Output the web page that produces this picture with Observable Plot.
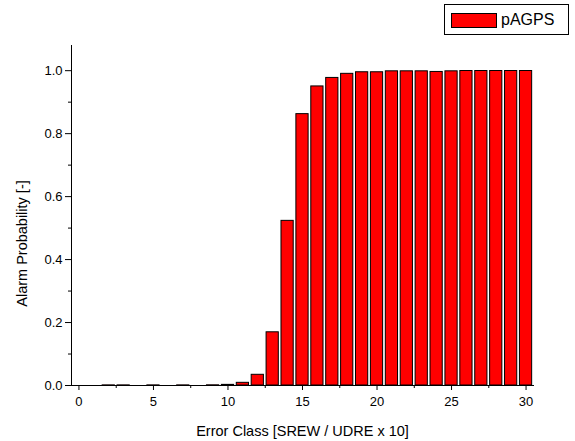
<!DOCTYPE html>
<html><head><meta charset="utf-8">
<script src="https://cdn.jsdelivr.net/npm/d3@7"></script>
<script src="https://cdn.jsdelivr.net/npm/@observablehq/plot@0.6"></script>
<style>
body{margin:0;background:#fff;font-family:"Liberation Sans",Arial,sans-serif;}
#wrap{position:relative;width:575px;height:441px;}
#legend{position:absolute;left:444px;top:4px;width:125px;height:31px;box-sizing:border-box;border:1px solid #000;background:#fff;font-size:16px;}
#legend .sw{position:absolute;left:6px;top:8px;width:46px;height:15px;background:#ff0000;border:1px solid #000;box-sizing:border-box;}
#legend .tx{position:absolute;left:56px;top:6px;line-height:18px;color:#000;}
</style></head>
<body><div id="wrap"><div id="legend"><div class="sw"></div><div class="tx">pAGPS</div></div></div>
<script>
const classes = [0,1,2,3,4,5,6,7,8,9,10,11,12,13,14,15,16,17,18,19,20,21,22,23,24,25,26,27,28,29,30];
const probs = [0,0,0.0004,0.0004,0,0.0004,0,0.0004,0,0.0006,0.002,0.0085,0.034,0.169,0.523,0.862,0.950,0.977,0.990,0.995,0.995,0.998,0.998,0.998,0.996,0.998,0.999,0.999,0.999,0.999,0.999];
const xTicks = [0,5,10,15,20,25,30];
const xMinor = [2.5,7.5,12.5,17.5,22.5,27.5];
const yTicks = [0,0.2,0.4,0.6,0.8,1.0];
const yMinor = [0.1,0.3,0.5,0.7,0.9];
const data = classes.map((c,i)=>({x:c,y:probs[i]}));
const half = 0.41;
const chart = Plot.plot({
  width:575, height:441,
  marginLeft:71, marginRight:42, marginTop:45, marginBottom:56,
  style:{fontFamily:"'Liberation Sans', Arial, sans-serif", fontSize:"13px", color:"#000", background:"#fff"},
  x:{domain:[-0.5,30.5]},
  y:{domain:[0,1.08]},
  marks:[
    Plot.rectY(data,{x1:d=>d.x-half, x2:d=>d.x+half, y:"y", fill:"#ff0000", stroke:"#000", strokeWidth:1}),
    Plot.axisX({ticks:xTicks, tickSize:5, tickFormat:d=>String(d), fontSize:13, tickPadding:6, label:null}),
    Plot.axisX({ticks:xMinor, tickSize:3, tickFormat:()=>"" , label:null}),
    Plot.axisY({ticks:yTicks, tickSize:6, tickFormat:d=>d.toFixed(1), fontSize:13, tickPadding:3, label:null}),
    Plot.axisY({ticks:yMinor, tickSize:3, tickFormat:()=>"", label:null}),
    Plot.text(["Error Class [SREW / UDRE x 10]"], {frameAnchor:"bottom", dy:46, lineAnchor:"middle", textAnchor:"middle", fontSize:14.5, text:d=>d}),
    Plot.text(["Alarm Probability [-]"], {frameAnchor:"left", dx:-49, dy:28, rotate:-90, textAnchor:"middle", lineAnchor:"middle", fontSize:14.5, text:d=>d}),
    Plot.frame({anchor:"left", stroke:"#000"}),
    Plot.frame({anchor:"bottom", stroke:"#000"})
  ]
});
document.getElementById("wrap").prepend(chart);
</script></body></html>
